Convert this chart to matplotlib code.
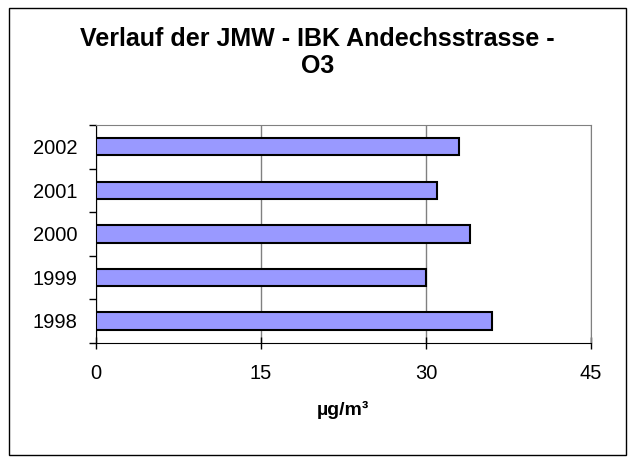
import matplotlib
matplotlib.use('Agg')
import matplotlib.pyplot as plt
from matplotlib.patches import Rectangle

years = ['1998', '1999', '2000', '2001', '2002']
o3_values = [36, 30, 34, 31, 33]
x_ticks = [0, 15, 30, 45]

plt.rcParams['font.family'] = ['Liberation Sans', 'DejaVu Sans']

fig = plt.figure(figsize=(6.35, 4.57), dpi=100)
ax = fig.add_axes([0.1507, 0.2501, 0.7800, 0.4764])

pos = list(range(len(years)))
ax.barh(pos, o3_values, height=0.4, color='#9999FF', edgecolor='black',
        linewidth=1.5, zorder=3)

ax.set_xlim(0, 45)
ax.set_ylim(-0.5, len(years) - 0.5)

ax.set_xticks(x_ticks)
ax.set_xticklabels([str(v) for v in x_ticks], fontsize=14.5)
ax.tick_params(axis='x', direction='inout', length=8, width=1, pad=11)
ax.xaxis.grid(True, color='#808080', linewidth=1, zorder=0)

ax.set_yticks(pos)
ax.set_yticklabels(years, fontsize=14.5)
ax.tick_params(axis='y', which='major', length=0, pad=13)
ax.set_yticks([p - 0.5 for p in pos] + [len(years) - 0.5], minor=True)
ax.tick_params(axis='y', which='minor', direction='out', length=5, width=1)

for side in ['top', 'right']:
    ax.spines[side].set_color('#808080')
for side in ['left', 'bottom']:
    ax.spines[side].set_color('black')

ax.set_xlabel('µg/m³', fontsize=14, fontweight='bold', labelpad=13)

fig.text(0.5, 0.885, 'Verlauf der JMW - IBK Andechsstrasse -\nO3',
         ha='center', va='center', fontsize=18, fontweight='bold',
         linespacing=1.12)

# border around the whole chart
fig.patches.append(Rectangle((9 / 635, 1 - 455 / 457), 617 / 635, 447.5 / 457,
                             transform=fig.transFigure, fill=False,
                             edgecolor='black', linewidth=1))

fig.savefig('out.png', dpi=100)
